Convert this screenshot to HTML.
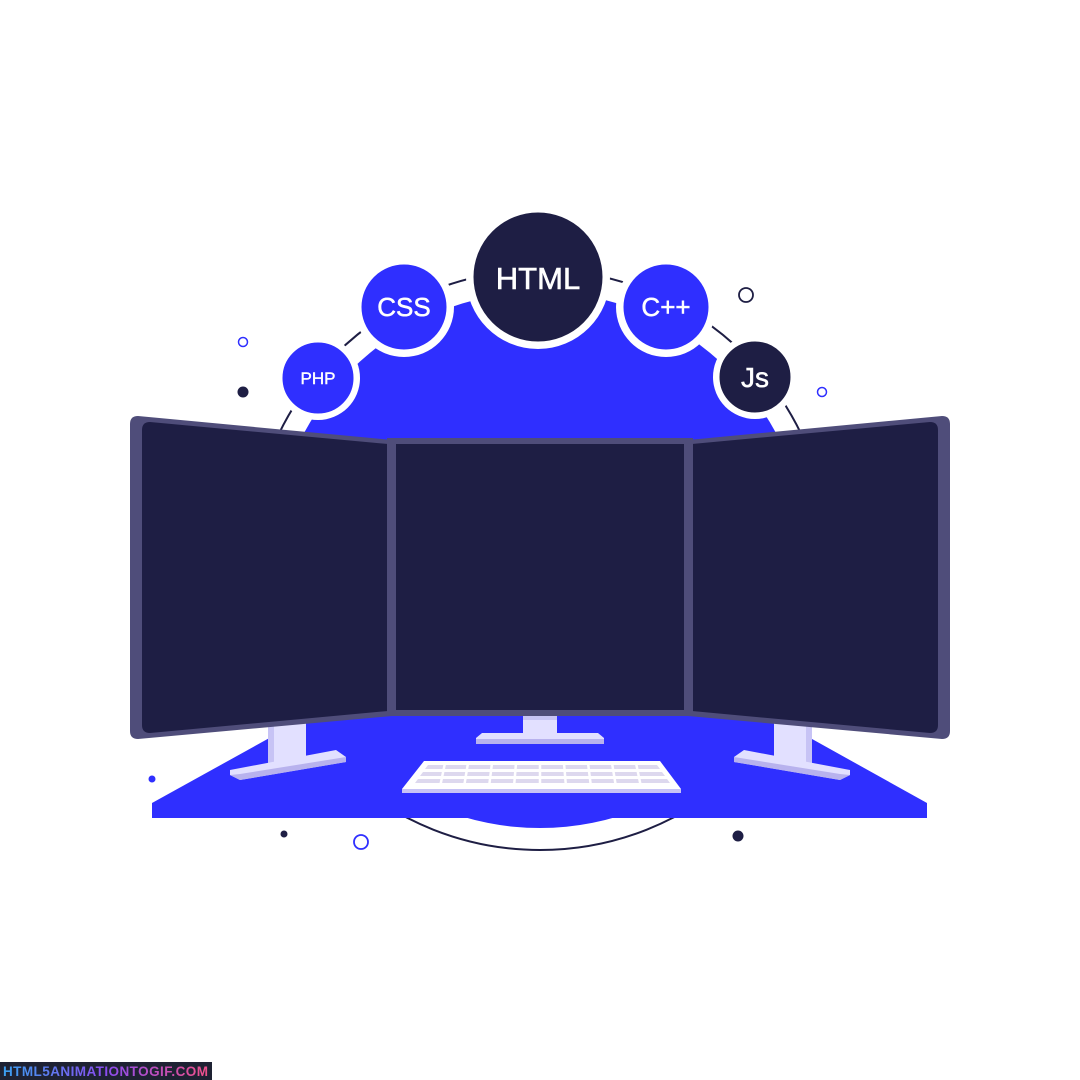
<!DOCTYPE html>
<html><head><meta charset="utf-8"><style>
html,body{margin:0;padding:0;background:#fff;width:1080px;height:1080px;overflow:hidden}
svg{display:block}
.t{font-family:"Liberation Sans",sans-serif;fill:#fff;text-anchor:middle}
</style></head><body>
<svg width="1080" height="1080" viewBox="0 0 1080 1080">
<circle cx="540" cy="560" r="290" fill="none" stroke="#1e1e44" stroke-width="2"/>
<circle cx="540" cy="560" r="268" fill="#2f2fff"/>
<circle cx="538" cy="277" r="72" fill="#fff"/>
<circle cx="404" cy="307" r="50" fill="#fff"/>
<circle cx="666" cy="307" r="50" fill="#fff"/>
<circle cx="318" cy="378" r="42" fill="#fff"/>
<circle cx="755" cy="377" r="42" fill="#fff"/>
<circle cx="538" cy="277" r="66" fill="#1e1e44" stroke="#fff" stroke-width="3"/>
<circle cx="404" cy="307" r="44" fill="#2f2fff" stroke="#fff" stroke-width="3"/>
<circle cx="666" cy="307" r="44" fill="#2f2fff" stroke="#fff" stroke-width="3"/>
<circle cx="318" cy="378" r="37" fill="#2f2fff" stroke="#fff" stroke-width="3"/>
<circle cx="755" cy="377" r="37" fill="#1e1e44" stroke="#fff" stroke-width="3"/>
<text class="t" x="538" y="289" font-size="31" stroke="#fff" stroke-width="0.6">HTML</text>
<text class="t" x="404" y="316" font-size="26" stroke="#fff" stroke-width="0.5">CSS</text>
<text class="t" x="666" y="316" font-size="26" stroke="#fff" stroke-width="0.5">C++</text>
<text class="t" x="318" y="384" font-size="17" stroke="#fff" stroke-width="0.4">PHP</text>
<text class="t" x="755" y="387" font-size="28" stroke="#fff" stroke-width="0.5">Js</text>
<circle cx="243" cy="342" r="4.5" fill="none" stroke="#2f2fff" stroke-width="1.5"/>
<circle cx="243" cy="392" r="5.5" fill="#1e1e44"/>
<circle cx="746" cy="295" r="7" fill="none" stroke="#1e1e44" stroke-width="1.8"/>
<circle cx="822" cy="392" r="4.5" fill="none" stroke="#2f2fff" stroke-width="1.5"/>
<circle cx="152" cy="779" r="3.5" fill="#2f2fff"/>
<circle cx="284" cy="834" r="3.5" fill="#1e1e44"/>
<circle cx="361" cy="842" r="7" fill="none" stroke="#2f2fff" stroke-width="1.8"/>
<circle cx="738" cy="836" r="5.5" fill="#1e1e44"/>
<polygon points="320,710 760,710 927,803 927,818 152,818 152,803" fill="#2f2fff"/>
<rect x="268" y="720" width="38" height="48" fill="#e2e0ff"/>
<rect x="268" y="720" width="6" height="48" fill="#c7c3f5"/>
<polygon points="230,770 336,750 346,757 346,762 240,780 230,775" fill="#e2e0ff"/>
<polygon points="230,775 240,780 346,762 346,757 240,774" fill="#b8b2ee"/>
<rect x="774" y="720" width="38" height="48" fill="#e2e0ff"/>
<rect x="806" y="720" width="6" height="48" fill="#c7c3f5"/>
<polygon points="850,770 744,750 734,757 734,762 840,780 850,775" fill="#e2e0ff"/>
<polygon points="850,775 840,780 734,762 734,757 840,774" fill="#b8b2ee"/>
<rect x="523" y="714" width="34" height="20" fill="#e2e0ff"/>
<rect x="523" y="714" width="34" height="6" fill="#c7c3f5"/>
<polygon points="482,733 598,733 604,738 604,744 476,744 476,738" fill="#e2e0ff"/>
<rect x="476" y="739" width="128" height="5" fill="#b8b2ee"/>
<polygon points="424,761 660,761 681,789 402,789" fill="#fff"/>
<rect x="402" y="789" width="279" height="4" fill="#c7c3f5"/>
<g fill="#ddd8ee">
<polygon points="428,765 657,765 660,769 425,769"/>
<polygon points="423,772 662,772 665,776 420,776"/>
<polygon points="418,779 667,779 670,783 415,783"/>
</g>
<g stroke="#fff" stroke-width="2.5">
<line x1="445" y1="763" x2="440" y2="787"/><line x1="468" y1="763" x2="464" y2="787"/>
<line x1="492" y1="763" x2="489" y2="787"/><line x1="516" y1="763" x2="514" y2="787"/>
<line x1="540" y1="763" x2="540" y2="787"/><line x1="564" y1="763" x2="566" y2="787"/>
<line x1="588" y1="763" x2="591" y2="787"/><line x1="612" y1="763" x2="616" y2="787"/>
<line x1="636" y1="763" x2="641" y2="787"/>
</g>
<path d="M138,416 L392,440 L392,716 L138,739 Q130,739 130,731 L130,424 Q130,416 138,416 Z" fill="#4f4d7a"/>
<path d="M150,422 L388,444 L388,711 L150,733 Q142,733 142,725 L142,430 Q142,422 150,422 Z" fill="#1e1e44"/>
<path d="M942,416 L688,440 L688,716 L942,739 Q950,739 950,731 L950,424 Q950,416 942,416 Z" fill="#4f4d7a"/>
<path d="M930,422 L692,444 L692,711 L930,733 Q938,733 938,725 L938,430 Q938,422 930,422 Z" fill="#1e1e44"/>
<rect x="387" y="438" width="306" height="278" fill="#4f4d7a"/>
<rect x="396" y="444" width="288" height="266" fill="#1e1e44"/>
<rect x="0" y="1062" width="212" height="18" fill="#1e2233"/>
<defs><linearGradient id="g" x1="0" x2="1"><stop offset="0" stop-color="#3aa0f0"/><stop offset="0.5" stop-color="#8a4cf0"/><stop offset="1" stop-color="#f0508a"/></linearGradient></defs>
<text x="3" y="1076" font-family="Liberation Sans,sans-serif" font-weight="bold" font-size="13.5" fill="url(#g)" textLength="205">HTML5ANIMATIONTOGIF.COM</text>
</svg>
</body></html>
